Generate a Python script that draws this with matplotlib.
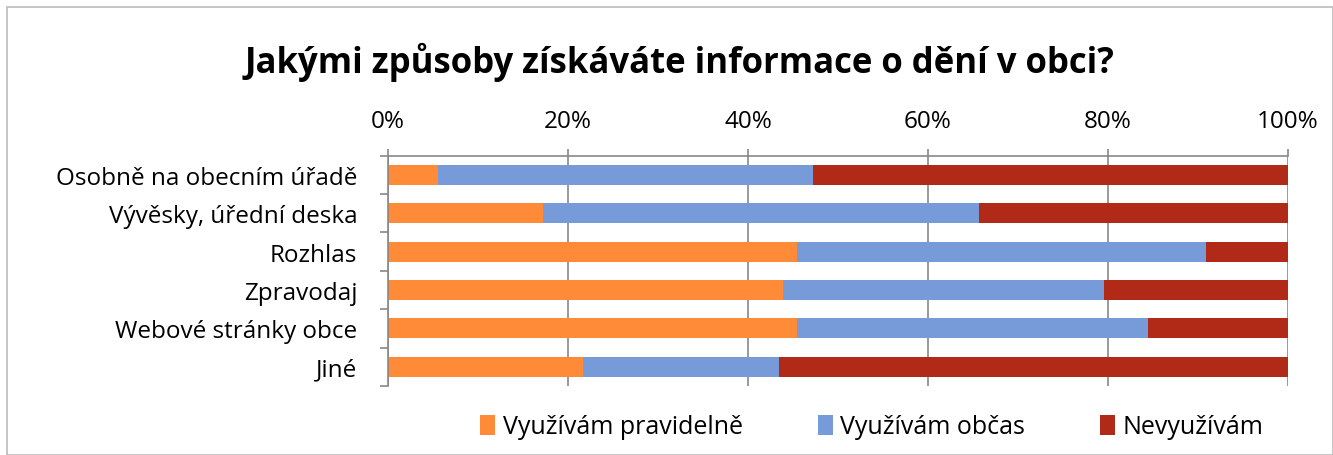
import numpy as np
import matplotlib.pyplot as plt
from matplotlib.patches import Rectangle
from matplotlib.ticker import FixedLocator

plt.rcParams['font.family'] = ['Open Sans', 'DejaVu Sans']

# Data (shares in %)
categories = ['Osobně na obecním úřadě', 'Vývěsky, úřední deska', 'Rozhlas',
              'Zpravodaj', 'Webové stránky obce', 'Jiné']
regular = [5.6, 17.2, 45.4, 43.9, 45.4, 21.7]
sometimes = [41.6, 48.5, 45.5, 35.6, 39.0, 21.7]
never = [52.8, 34.3, 9.1, 20.5, 15.6, 56.6]
series_names = ['Využívám pravidelně', 'Využívám občas', 'Nevyužívám']
colors = ['#FF8A38', '#779AD8', '#B12A17']

W, H = 1333, 456
fig = plt.figure(figsize=(W / 100, H / 100), dpi=100)
ax = fig.add_axes([388 / W, 1 - 387 / H, 900 / W, (387 - 156.5) / H])

y = np.arange(len(categories))
left = np.zeros(len(categories))
for vals, name, c in zip([regular, sometimes, never], series_names, colors):
    ax.barh(y, vals, left=left, height=0.52, color=c, label=name, zorder=2)
    left += np.array(vals)

ax.set_xlim(0, 100)
ax.set_ylim(len(categories) - 0.5, -0.5)
ax.xaxis.tick_top()
ax.set_xticks(np.arange(0, 101, 20))
ax.set_xticklabels([f'{v}%' for v in range(0, 101, 20)], fontsize=17.5)
ax.tick_params(axis='x', length=5, width=1.2, color='#888888', pad=11)
ax.grid(axis='x', color='#888888', linewidth=1.2, zorder=1)

ax.set_yticks(y)
ax.set_yticklabels(categories, fontsize=17.5)
ax.tick_params(axis='y', which='major', length=0, pad=22)
ax.yaxis.set_minor_locator(FixedLocator(np.arange(-0.5, len(categories), 1)))
ax.tick_params(axis='y', which='minor', length=6, width=1.2, color='#888888')

for s in ['right', 'bottom']:
    ax.spines[s].set_visible(False)
for s in ['left', 'top']:
    ax.spines[s].set_color('#888888')
    ax.spines[s].set_linewidth(1.2)

fig.text(680 / W, 1 - 62 / H, 'Jakými způsoby získáváte informace o dění v obci?',
         ha='center', va='center', fontsize=25, fontweight='bold')

fig.legend(loc='center', bbox_to_anchor=(872 / W, 1 - 428 / H), ncol=3,
           frameon=False, fontsize=18, handlelength=0.6, handleheight=0.9,
           handletextpad=0.3, columnspacing=3.0)

fig.patches.append(Rectangle((7 / W, 0), 1 - 7 / W, 1 - 8 / H, transform=fig.transFigure,
                             fill=False, edgecolor='#BBBBBB', linewidth=1.2))

fig.savefig('out.png', dpi=100)
